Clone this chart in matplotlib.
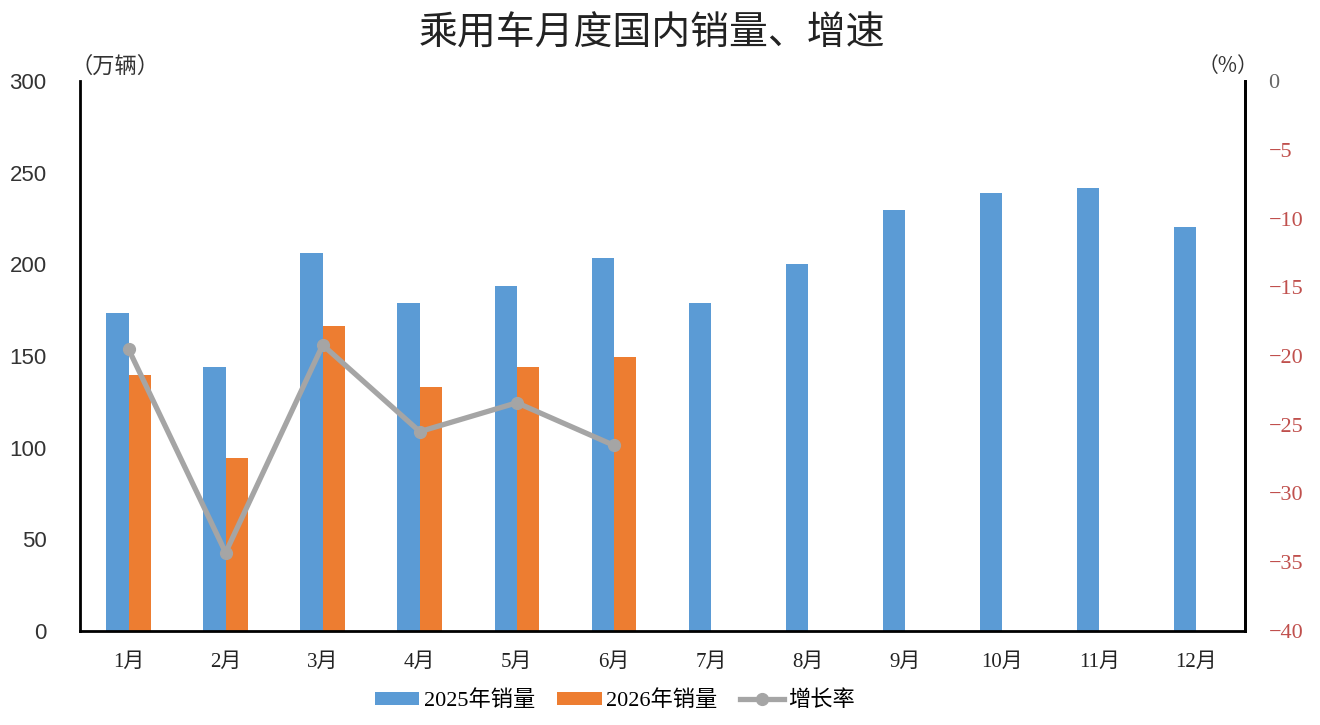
import matplotlib
matplotlib.use("Agg")
import matplotlib.pyplot as plt
import numpy as np

# data
months = ["1月", "2月", "3月", "4月", "5月", "6月",
          "7月", "8月", "9月", "10月", "11月", "12月"]
sales_2025 = [173.6, 144.0, 206.0, 178.9, 188.2, 203.6,
              178.7, 200.2, 229.9, 239.1, 241.5, 220.5]
sales_2026 = [139.6, 94.5, 166.4, 133.3, 143.8, 149.6]
growth = [-19.5, -34.3, -19.2, -25.5, -23.4, -26.5]

left_ticks = [0, 50, 100, 150, 200, 250, 300]
right_ticks = [0, -5, -10, -15, -20, -25, -30, -35, -40]

BLUE = "#5B9BD5"
ORANGE = "#ED7D31"
GRAY = "#A5A5A5"
RED = "#C0504D"

CJK = ["Noto Sans CJK SC", "DejaVu Sans"]
SERIF_CJK = ["Liberation Serif", "Noto Sans CJK SC", "DejaVu Sans"]

fig = plt.figure(figsize=(13.2, 7.25), dpi=100)
ax = fig.add_axes([80 / 1320, 94 / 725, 1165 / 1320, 550 / 725])

x = np.arange(len(months))
w = 0.23
ax.bar(x - w / 2, sales_2025, width=w, color=BLUE, label="2025年销量", zorder=2)
ax.bar(x[:len(sales_2026)] + w / 2, sales_2026, width=w, color=ORANGE,
       label="2026年销量", zorder=2)

ax.set_xlim(-0.5, len(months) - 0.5)
ax.set_ylim(0, 300)
ax.set_yticks(left_ticks)
ax.set_xticks(x)
ax.set_xticklabels(months, family=SERIF_CJK, fontsize=15, color="#222222")
for lab in ax.get_yticklabels():
    lab.set_family(["Liberation Sans", "DejaVu Sans"])
    lab.set_fontsize(16)
    lab.set_color("#333333")
ax.tick_params(axis="y", length=0, pad=24)
ax.tick_params(axis="x", length=0, pad=16)

for side in ["left", "bottom", "right"]:
    ax.spines[side].set_linewidth(2)
    ax.spines[side].set_color("black")
ax.spines["top"].set_visible(False)

ax2 = ax.twinx()
ax2.plot(x[:len(growth)], growth, color=GRAY, lw=3.8, marker="o",
         markersize=8.5, label="增长率", zorder=3)
ax2.set_ylim(-40, 0)
ax2.set_yticks(right_ticks)
ax2.set_yticklabels([f"{v}".replace("-", "\u2212") for v in right_ticks],
                    family=["Liberation Serif", "DejaVu Sans"], fontsize=16)
for lab, v in zip(ax2.get_yticklabels(), right_ticks):
    lab.set_color("#666666" if v == 0 else RED)
ax2.tick_params(axis="y", length=0, pad=17)
for side in ["left", "bottom", "top"]:
    ax2.spines[side].set_visible(False)
ax2.spines["right"].set_linewidth(2)
ax2.spines["right"].set_color("black")

fig.text(652 / 1320, 1 - 33 / 725, "乘用车月度国内销量、增速",
         family=CJK, fontsize=28, weight="light", ha="center", va="center",
         color="#222222")
fig.text(115 / 1320, 1 - 66 / 725, "（万辆）", family=CJK, fontsize=16,
         ha="center", va="center", color="#333333")
fig.text(1228 / 1320, 1 - 66 / 725, "（%）", family=CJK, fontsize=15,
         ha="center", va="center", color="#333333")

h1, l1 = ax.get_legend_handles_labels()
h2, l2 = ax2.get_legend_handles_labels()
fig.legend(h1 + h2, l1 + l2, loc="center", ncol=3, frameon=False,
           bbox_to_anchor=(615 / 1320, 1 - 701 / 725),
           prop={"family": SERIF_CJK, "size": 16},
           handlelength=2.0, handleheight=0.5, handletextpad=0.2,
           columnspacing=1.0)

fig.savefig("out.png", dpi=100, facecolor="white")
